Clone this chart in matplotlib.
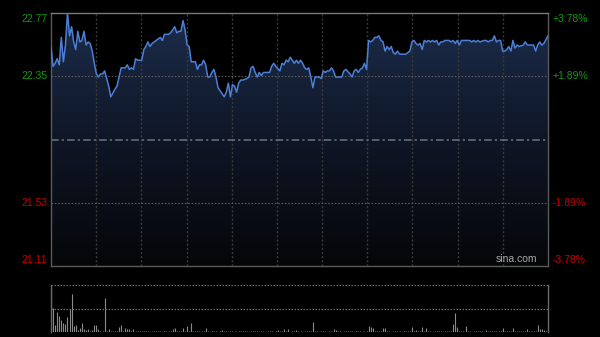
import numpy as np
import matplotlib
matplotlib.use("Agg")
import matplotlib.pyplot as plt
from matplotlib.patches import Polygon
from matplotlib.colors import LinearSegmentedColormap

plt.rcParams["font.family"] = ["Liberation Sans", "DejaVu Sans"]

# ── data ────────────────────────────────────────────────────────────────────
PREV_CLOSE = 21.94
PRICE_LOW, PRICE_HIGH = 21.11, 22.77
PRICE_LABELS = ["22.77", "22.35", "21.53", "21.11"]
PCT_LABELS = ["+3.78%", "+1.89%", "-1.89%", "-3.78%"]
N_MINUTES = 242

minutes = [
    0, 1, 2, 3, 4, 5, 6, 7, 8, 9, 10, 11, 12, 13, 14, 15, 16, 17, 18, 19,
    20, 21, 22, 23, 24, 25, 26, 27, 28, 29, 31, 32, 33, 34, 35, 36, 37, 38, 39, 40,
    41, 42, 43, 44, 45, 46, 47, 48, 49, 50, 52, 53, 54, 55, 57, 58, 60, 61, 62, 63,
    64, 65, 66, 67, 68, 69, 70, 71, 72, 73, 74, 75, 76, 77, 78, 79, 80, 81, 82, 84,
    85, 86, 87, 88, 89, 90, 91, 92, 93, 95, 96, 97, 98, 99, 100, 101, 102, 103, 106, 107,
    108, 109, 111, 112, 113, 114, 115, 116, 117, 118, 119, 120, 121, 122, 123, 124, 125, 126, 127, 128,
    129, 130, 131, 132, 133, 134, 135, 136, 137, 138, 140, 141, 142, 143, 145, 146, 147, 148, 149, 150,
    151, 152, 153, 154, 155, 156, 157, 158, 159, 160, 161, 162, 163, 164, 165, 166, 167, 168, 169, 171,
    172, 174, 175, 176, 177, 178, 179, 180, 181, 182, 183, 184, 185, 186, 187, 188, 189, 190, 191, 193,
    194, 195, 196, 197, 198, 199, 201, 203, 204, 205, 206, 207, 208, 210, 211, 212, 213, 214, 215, 216,
    217, 218, 219, 220, 221, 222, 223, 224, 225, 226, 227, 229, 230, 231, 233, 234, 235, 236, 237, 238,
    239, 241,
]
prices = [
    22.55, 22.42, 22.44, 22.47, 22.43, 22.61, 22.45, 22.56, 22.77, 22.62, 22.68, 22.58, 22.53, 22.65, 22.58, 22.59, 22.65, 22.56, 22.58, 22.57,
    22.52, 22.44, 22.37, 22.35, 22.37, 22.37, 22.39, 22.34, 22.29, 22.22, 22.27, 22.29, 22.35, 22.41, 22.41, 22.41, 22.43, 22.40, 22.41, 22.40,
    22.47, 22.46, 22.46, 22.46, 22.53, 22.55, 22.58, 22.55, 22.57, 22.58, 22.60, 22.61, 22.59, 22.63, 22.63, 22.64, 22.68, 22.64, 22.65, 22.65,
    22.72, 22.66, 22.56, 22.55, 22.45, 22.45, 22.45, 22.40, 22.43, 22.43, 22.46, 22.43, 22.35, 22.35, 22.38, 22.40, 22.35, 22.28, 22.26, 22.22,
    22.25, 22.31, 22.22, 22.30, 22.29, 22.25, 22.31, 22.33, 22.33, 22.34, 22.35, 22.41, 22.42, 22.38, 22.35, 22.38, 22.36, 22.38, 22.38, 22.42,
    22.44, 22.42, 22.39, 22.44, 22.43, 22.46, 22.45, 22.48, 22.46, 22.44, 22.46, 22.44, 22.46, 22.44, 22.41, 22.40, 22.41, 22.35, 22.28, 22.35,
    22.35, 22.35, 22.34, 22.39, 22.38, 22.39, 22.39, 22.41, 22.39, 22.35, 22.35, 22.35, 22.39, 22.40, 22.37, 22.35, 22.39, 22.40, 22.38, 22.40,
    22.41, 22.44, 22.40, 22.59, 22.58, 22.59, 22.61, 22.61, 22.62, 22.59, 22.58, 22.52, 22.55, 22.53, 22.55, 22.51, 22.50, 22.52, 22.50, 22.50,
    22.50, 22.52, 22.58, 22.59, 22.57, 22.56, 22.57, 22.53, 22.59, 22.58, 22.59, 22.58, 22.59, 22.58, 22.59, 22.56, 22.58, 22.58, 22.59, 22.59,
    22.58, 22.59, 22.57, 22.59, 22.56, 22.59, 22.59, 22.59, 22.58, 22.59, 22.58, 22.59, 22.58, 22.59, 22.59, 22.58, 22.59, 22.59, 22.62, 22.58,
    22.59, 22.59, 22.52, 22.52, 22.53, 22.55, 22.52, 22.59, 22.54, 22.56, 22.55, 22.56, 22.58, 22.56, 22.56, 22.56, 22.52, 22.56, 22.58, 22.56,
    22.57, 22.62,
]
volume = [
    100, 52, 15, 43, 33, 25, 20, 18, 31, 48, 81, 13, 15, 4, 8, 20, 6, 4, 6, 3,
    5, 14, 15, 6, 3, 2, 72, 2, 6, 3, 2, 3, 2, 11, 15, 3, 8, 6, 6, 3,
    7, 2, 2, 3, 2, 3, 2, 2, 1, 2, 2, 3, 2, 2, 1, 3, 2, 2, 3, 7,
    9, 2, 2, 3, 9, 2, 13, 3, 20, 2, 2, 3, 2, 2, 3, 9, 2, 1, 2, 2,
    2, 1, 2, 4, 2, 2, 1, 2, 2, 2, 1, 2, 2, 3, 2, 2, 1, 2, 2, 2,
    2, 1, 2, 2, 1, 2, 2, 2, 1, 2, 5, 2, 2, 6, 2, 6, 1, 2, 2, 5,
    2, 2, 1, 2, 2, 2, 3, 22, 2, 2, 1, 2, 2, 2, 1, 2, 2, 6, 4, 2,
    2, 1, 2, 2, 3, 2, 2, 1, 2, 2, 2, 1, 2, 2, 13, 10, 8, 2, 2, 2,
    2, 8, 8, 2, 2, 1, 2, 2, 2, 2, 1, 2, 2, 2, 2, 11, 2, 5, 2, 2,
    11, 2, 8, 2, 2, 1, 2, 2, 2, 2, 1, 2, 2, 2, 2, 17, 40, 10, 2, 2,
    2, 13, 2, 2, 1, 2, 2, 2, 2, 2, 1, 4, 2, 2, 2, 2, 2, 2, 2, 8,
    2, 2, 2, 2, 9, 2, 2, 2, 2, 2, 2, 6, 2, 2, 2, 2, 15, 6, 6, 4,
    2, 3,
]

# ── figure ───────────────────────────────────────────────────────────────────
W, H = 600, 337
fig = plt.figure(figsize=(W / 100, H / 100), dpi=100, facecolor="black")
ax = fig.add_axes([51 / W, 71 / H, 497 / W, 253 / H], facecolor="black")
axv = fig.add_axes([51 / W, 5 / H, 497 / W, 47 / H], facecolor="black")

x_max = N_MINUTES - 1
ax.set_xlim(0, x_max)
ax.set_ylim(PRICE_LOW, PRICE_HIGH)

# gradient fill under the price line
poly = Polygon([(minutes[0], PRICE_LOW)] + list(zip(minutes, prices)) + [(minutes[-1], PRICE_LOW)],
               closed=True, facecolor="none", edgecolor="none")
ax.add_patch(poly)
cmap = LinearSegmentedColormap.from_list("fill", ["#050608", "#0f1626", "#1d2d4c"])
grad = np.linspace(0, 1, 256).reshape(-1, 1)
img = ax.imshow(grad, cmap=cmap, extent=(0, x_max, PRICE_LOW, PRICE_HIGH),
                origin="lower", aspect="auto", zorder=1)
img.set_clip_path(poly)

# grid
for k in range(1, 11):
    ax.axvline(x_max * k / 11, color="#3a3a3a", lw=1, ls=(0, (1.5, 1.5)), zorder=2)
span = PRICE_HIGH - PRICE_LOW
for frac in (0.25, 0.75):
    ax.axhline(PRICE_LOW + span * frac, color="#5a5a5a", lw=0.8, ls=(0, (1.5, 1.5)), zorder=2)
ax.axhline(PREV_CLOSE, color="#6f7682", lw=1.1, ls=(0, (5, 2, 1.5, 2)), zorder=2)

ax.plot(minutes, prices, color="#4c7fd6", lw=1.1, zorder=3)

for s in ax.spines.values():
    s.set_color("#5a5a5a")
    s.set_linewidth(1)
ax.spines["top"].set_color("#7a7a7a")
ax.set_xticks([])
ax.set_yticks([])

# axis labels
green, red = "#109a10", "#c80000"
label_y = [PRICE_HIGH, PRICE_LOW + span * 0.75, PRICE_LOW + span * 0.25, PRICE_LOW]
vas = ["top", "center", "center", "bottom"]
offs = [-0.008, 0, 0, 0.006]
tr = ax.get_yaxis_transform()
for i, (lab, pct, yv, va) in enumerate(zip(PRICE_LABELS, PCT_LABELS, label_y, vas)):
    c = green if i < 2 else red
    yy = yv + offs[i] * 1
    ax.text(-0.007, yy, lab, transform=tr, ha="right", va=va, color=c, fontsize=7.5)
    ax.text(1.01, yy, pct, transform=tr, ha="left", va=va, color=c, fontsize=7.5)

ax.text(0.978, 0.006, "sina.com", transform=ax.transAxes, ha="right", va="bottom",
        color="#a8a8a8", fontsize=7.5, zorder=4)

# volume panel
axv.set_xlim(0, x_max)
axv.set_ylim(0, 100)
axv.vlines(range(N_MINUTES), 0, volume, color="#8a8a8a", lw=0.8)
for yv in (50, 100):
    axv.axhline(yv, color="#6a6a6a", lw=0.9, ls=(0, (1.2, 1.2)))
axv.axhline(0, color="#4a4a4a", lw=0.8)
for side in ("top", "bottom"):
    axv.spines[side].set_visible(False)
for side in ("left", "right"):
    axv.spines[side].set_color("#6a6a6a")
    axv.spines[side].set_linewidth(1)
axv.set_xticks([])
axv.set_yticks([])

fig.savefig("out.png", dpi=100, facecolor="black")
